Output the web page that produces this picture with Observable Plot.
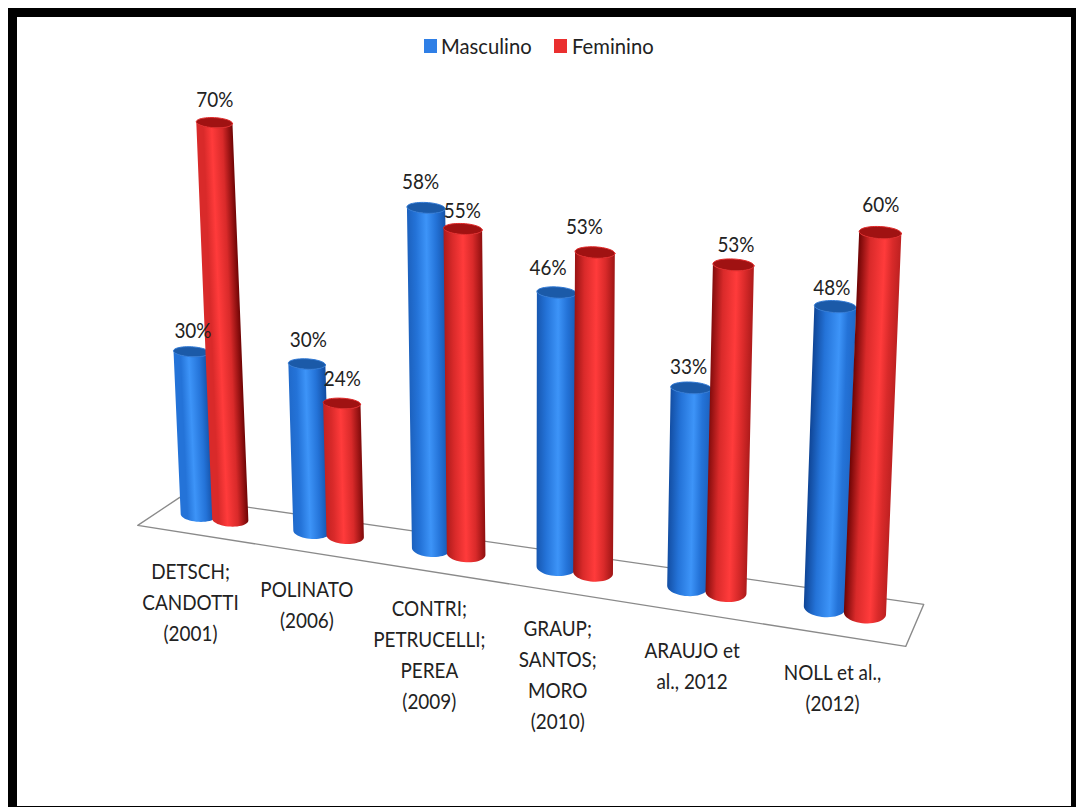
<!DOCTYPE html>
<html lang="pt">
<head>
<meta charset="utf-8">
<script src="https://cdn.jsdelivr.net/npm/d3@7"></script>
<script src="https://cdn.jsdelivr.net/npm/@observablehq/plot@0.6"></script>
<style>
  html, body { margin: 0; padding: 0; background: #fff; width: 1076px; height: 807px; overflow: hidden; }
  #frame { position: absolute; left: 8px; top: 8px; right: 0; bottom: 0; border-style: solid; border-color: #000;
           border-width: 9px 5px 1px 9px; pointer-events: none; }
  #chart { position: absolute; left: 0; top: 0; }
  #legend { position: absolute; left: 0; top: 33px; width: 1076px; height: 26px; font: 22px Lato, sans-serif; color: #222; }
  #legend i { position: absolute; top: 6px; width: 13px; height: 14px; }
  #legend span { position: absolute; top: 0; line-height: 26px; white-space: nowrap; transform: scaleX(0.92); transform-origin: left center; }
</style>
</head>
<body>
<div id="chart"></div>
<div id="legend">
  <i style="left:424px;background:#2f7fe6"></i><span style="left:441px">Masculino</span>
  <i style="left:554px;background:#ea2f2f"></i><span style="left:572px">Feminino</span>
</div>
<div id="frame"></div>
<script>
const estudos = [
  "DETSCH;\nCANDOTTI\n(2001)",
  "POLINATO\n(2006)",
  "CONTRI;\nPETRUCELLI;\nPEREA\n(2009)",
  "GRAUP;\nSANTOS;\nMORO\n(2010)",
  "ARAUJO et\nal., 2012",
  "NOLL et al.,\n(2012)"
];
const masculino = [30, 30, 58, 46, 33, 48];
const feminino = [70, 24, 55, 53, 53, 60];

// Hand placement of the value labels relative to their cylinder tops, [dx, dy] per series.
const ajusteMasculino = [[4, -1], [4, -5], [-3, -6], [-6, -5], [0, -1], [-1, 1]];
const ajusteFeminino = [[-1, -3], [-1, -5], [-2, 1], [-12, -6], [1, 0], [-1, -8]];

// Perspective of the 3D scene: u runs along the category axis, d across the floor.
const floorPoint = (u, d = 0) => {
  const t = (u + 0.5) / 6;
  return [
    213 + 111 * u + 3 * u * u + d * (-21 + 12 * t),
    519 + 16.5 * u + 0.5 * u * u + d * (14 + 7 * t)
  ];
};
const heightOf = (value, u) => value * (5.79 + 0.14 * u) - 10;
const vanishX = 547, vanishDepth = 7900;

// Closed ring of the floor plate.
const floorRing = [[-0.5, -1], [5.5, -1], [5.5, 1], [-0.5, 1], [-0.5, -1]].map(([u, d]) => floorPoint(u, d));

const lerp = (a, b, t) => a + (b - a) * t;
const ramp = d3.range(25).map((i) => (i / 24) * Math.PI);

// Geometry of one cylinder, from its category, its series and its value.
function cylinder(i, series, value) {
  const u = i + (series === 0 ? -0.13 : 0.155);
  const [fx, fy] = floorPoint(u);
  const bx = fx;
  const by = fy - 2 - 0.4 * u;
  const h = heightOf(value, u);
  const tx = bx + ((bx - vanishX) * h) / vanishDepth;
  const ty = by - h;
  const r = 18 + 0.6 * u;
  const baseRy = 7 + 0.6 * u;
  const topRy = 5 + 0.2 * u;
  const tilt = 0.05;
  const rim = (cx, cy, ry, a) => [cx + Math.cos(a) * r, cy + Math.cos(a) * r * tilt + Math.sin(a) * ry];
  const side = ramp.map((a) => {
    const [x1, y1] = rim(tx, ty, topRy, a);
    const [x2, y2] = rim(bx, by, baseRy, a);
    return { x1, y1, x2, y2 };
  });
  const cap = ramp.map((a) => {
    const [x1, y1] = rim(tx, ty, topRy, a);
    const [x2, y2] = rim(tx, ty, topRy, -a);
    return { x1, y1, x2, y2 };
  });
  const [dx, dy] = (series === 0 ? ajusteMasculino : ajusteFeminino)[i];
  return { i, series, value, u, bx, by, tx, ty, r, side, cap, labelX: tx + dx + (series === 0 ? -3 : 1), labelY: ty - 20 + dy };
}

const cylinders = estudos.flatMap((_, i) => [
  cylinder(i, 0, masculino[i]),
  cylinder(i, 1, feminino[i])
]);

const palette = [
  { edge: "#0f4596", body: "#2473d8", light: "#3d94f8", cap: "#1b5aa8", rim: "#2f78d4" },
  { edge: "#6e0404", body: "#d92a2a", light: "#ff3b3b", cap: "#a01212", rim: "#e02828" }
];

// One shaded band across each cylinder; the highlight drifts right along the axis.
function gradients() {
  const defs = d3.create("svg:defs");
  for (const c of cylinders) {
    const p = palette[c.series];
    const t = c.i / 5;
    const peak = lerp(0.42, 0.62, t);
    const axisX = c.tx - c.bx, axisY = c.ty - c.by;
    const len = Math.hypot(axisX, axisY);
    const nx = -axisY / len, ny = axisX / len;
    const g = defs.append("linearGradient")
      .attr("id", `cil-${c.i}-${c.series}`)
      .attr("gradientUnits", "userSpaceOnUse")
      .attr("x1", c.bx - nx * c.r).attr("y1", c.by - ny * c.r)
      .attr("x2", c.bx + nx * c.r).attr("y2", c.by + ny * c.r);
    const leftEdge = d3.interpolateRgb(p.body, p.edge)(t);
    const rightEdge = d3.interpolateRgb(p.edge, p.body)(t * 0.75);
    [[0, leftEdge], [peak * 0.45, p.body], [peak, p.light], [lerp(peak, 1, 0.5), p.body], [1, rightEdge]]
      .forEach(([o, col]) => g.append("stop").attr("offset", o).attr("stop-color", col));
  }
  return defs.node();
}

const barMarks = cylinders.flatMap((c) => [
  Plot.area(c.side, { x1: "x1", y1: "y1", x2: "x2", y2: "y2", fill: `url(#cil-${c.i}-${c.series})` }),
  Plot.area(c.cap, { x1: "x1", y1: "y1", x2: "x2", y2: "y2", fill: palette[c.series].cap,
    stroke: palette[c.series].rim, strokeWidth: 1 })
]);

const chart = Plot.plot({
  width: 1076,
  height: 807,
  margin: 0,
  style: { background: "transparent" },
  x: { domain: [0, 1076], range: [0, 1076], axis: null },
  y: { domain: [0, 807], range: [0, 807], axis: null },
  marks: [
    gradients,
    Plot.line(floorRing, { x: (d) => d[0], y: (d) => d[1], stroke: "#8a8a8a", strokeWidth: 1.3, curve: "linear" }),
    ...barMarks,
    Plot.text(cylinders, {
      x: "labelX",
      y: "labelY",
      text: (c) => `${c.value}%`,
      fontSize: 22,
      fontFamily: "Lato, sans-serif",
      fill: "#222"
    }),
    Plot.text(estudos, {
      x: (_, i) => floorPoint(i)[0] - 23 + 2.4 * i,
      y: (_, i) => floorPoint(i)[1] + 37 + 1.3 * i,
      text: (d) => d,
      lineAnchor: "top",
      lineHeight: 1.41,
      fontSize: 22,
      fontFamily: "Lato, sans-serif",
      fill: "#222"
    })
  ]
});

// The chart's lettering is narrow and tall, so every label is squeezed horizontally.
d3.select(chart).selectAll("text").attr("transform", function () {
  return `${this.getAttribute("transform") || ""} scale(0.86,1)`;
});

document.getElementById("chart").append(chart);
</script>
</body>
</html>
